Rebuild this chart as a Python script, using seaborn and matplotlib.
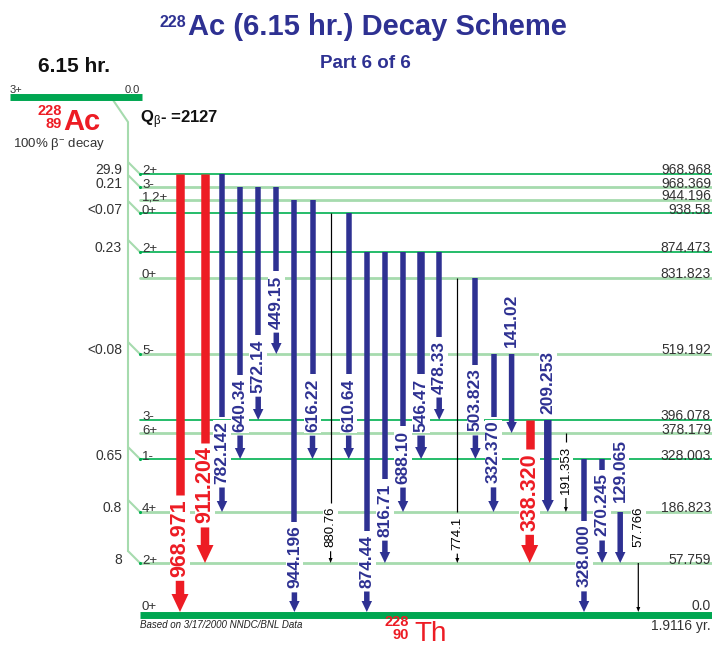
import numpy as np
import pandas as pd
import matplotlib
matplotlib.use("Agg")
import matplotlib.pyplot as plt
from matplotlib.patches import Rectangle
import seaborn as sns

# levels of 228Th populated in the decay (keV)
level_energy = [968.968, 968.369, 944.196, 938.58, 874.473, 831.823, 519.192,
                396.078, 378.179, 328.003, 186.823, 57.759, 0.0]
level_spin = ["2+", "3-", "1,2+", "0+", "2+", "0+", "5-", "3-", "6+", "1-", "4+", "2+", "0+"]
level_feed = ["29.9", "0.21", "", "<0.07", "0.23", "", "<0.08", "", "", "0.65", "0.8", "8", ""]
level_tone = ["dark", "light", "light", "dark", "dark", "light", "light",
              "dark", "light", "dark", "light", "light", "ground"]

# gamma transitions, left to right
gamma_label = ["968.971", "911.204", "782.142", "640.34", "572.14", "449.15", "944.196",
               "616.22", "880.76", "610.64", "874.44", "816.71", "688.10", "546.47",
               "478.33", "774.1", "503.823", "332.370", "141.02", "338.320", "209.253",
               "191.353", "328.000", "270.245", "129.065", "57.766"]
gamma_from = [968.968, 968.968, 968.968, 968.369, 968.369, 968.369, 944.196, 944.196,
              938.58, 938.58, 874.473, 874.473, 874.473, 874.473, 874.473, 831.823,
              831.823, 519.192, 519.192, 396.078, 396.078, 378.179, 328.003, 328.003,
              186.823, 57.759]
gamma_to = [0.0, 57.759, 186.823, 328.003, 396.078, 519.192, 0.0, 328.003, 57.759,
            328.003, 0.0, 57.759, 186.823, 328.003, 396.078, 57.759, 328.003, 186.823,
            378.179, 57.759, 186.823, 186.823, 0.0, 57.759, 57.759, 0.0]
gamma_kind = ["red", "red", "blue", "blue", "blue", "blue", "blue", "blue", "black",
              "blue", "blue", "blue", "blue", "thick", "blue", "black", "blue", "blue",
              "blue", "red", "thick", "black", "blue", "blue", "blue", "black"]

# ---- layout (pixels, schematic) ----
level_pos = {968.968: 174, 968.369: 187, 944.196: 200, 938.58: 213, 874.473: 252,
             831.823: 278, 519.192: 354, 396.078: 420, 378.179: 433, 328.003: 459,
             186.823: 512, 57.759: 563, 0.0: 615}
label_mid = [538, 485, 452, 405, 366, 302, 557, 405, 527, 405, 561, 510, 457, 405,
             367, 533, 400, 452, 320, 492, 383, 470, 556, 505, 470, 527]
col_x = np.r_[180, 205, 222 + 18.1 * np.arange(24)]

BLUE = "#2e3192"
RED = "#ed1c24"
GREEN = "#00b050"
LIGHT = "#a6dbae"
BAR = "#00a651"
GREY = "#333333"

kind_style = {
    "red": dict(color=RED, w=8.5, hw=17, hl=18, fs=15.5, weight="bold"),
    "blue": dict(color=BLUE, w=5.5, hw=10.5, hl=11, fs=12.5, weight="bold"),
    "thick": dict(color=BLUE, w=7.5, hw=12, hl=12, fs=12.5, weight="bold"),
    "black": dict(color="black", w=1.2, hw=4, hl=5, fs=9.5, weight="normal"),
}

sns.set_theme(style="white")
plt.rcParams["font.family"] = ["Liberation Sans", "DejaVu Sans"]
plt.rcParams["mathtext.fontset"] = "custom"
plt.rcParams["mathtext.rm"] = "Liberation Sans"
plt.rcParams["mathtext.it"] = "Liberation Sans:italic"
plt.rcParams["mathtext.bf"] = "Liberation Sans:bold"

fig = plt.figure(figsize=(7.12, 6.48), dpi=100)
ax = fig.add_axes([0, 0, 1, 1])

# level lines
rows = []
for e, tone in zip(level_energy[:-1], level_tone[:-1]):
    rows.append(dict(level=str(e), tone=tone, x=140, y=level_pos[e]))
    rows.append(dict(level=str(e), tone=tone, x=712, y=level_pos[e]))
lv = pd.DataFrame(rows)
sns.lineplot(data=lv, x="x", y="y", units="level", estimator=None, hue="tone",
             size="tone", palette={"dark": GREEN, "light": LIGHT},
             sizes={"dark": 1.2, "light": 2.0}, legend=False, sort=False, ax=ax)
ax.hlines(level_pos[0.0], 140, 712, color=BAR, lw=5, zorder=2)

ax.set_xlim(0, 712)
ax.set_ylim(648, 0)
ax.set_axis_off()

for e, spin, feed in zip(level_energy, level_spin, level_feed):
    y = level_pos[e] if e > 0 else level_pos[e] - 5
    ax.text(142, y + 0.5, spin, fontsize=9.5, color=GREY, va="baseline", ha="left", zorder=5)
    ax.text(711, y + 0.5, str(e), fontsize=10, color=GREY, va="baseline", ha="right", zorder=5)
    if feed:
        ax.text(122, y + 0.5, feed, fontsize=10, color=GREY, va="baseline", ha="right", zorder=5)

# beta feeding lines
fed_y = [level_pos[e] for e, f in zip(level_energy, level_feed) if f]
ax.plot([113, 128, 128], [100, 122, max(fed_y) - 12], color=LIGHT, lw=1.5, zorder=2)
for y in fed_y:
    ax.plot([128, 140], [y - 12, y], color=LIGHT, lw=1.5, zorder=2)
ax.scatter([140] * len(fed_y), fed_y, s=5, color=GREEN, zorder=3, linewidths=0)

# gamma labels
texts = []
for i, (lab, kind) in enumerate(zip(gamma_label, gamma_kind)):
    st = kind_style[kind]
    t = ax.text(col_x[i], label_mid[i], lab, rotation=90, ha="center", va="center",
                color=st["color"], fontsize=st["fs"], fontweight=st["weight"], zorder=3)
    texts.append(t)

fig.canvas.draw()
renderer = fig.canvas.get_renderer()
inv = ax.transData.inverted()
gap = 4
for i, kind in enumerate(gamma_kind):
    st = kind_style[kind]
    x = col_x[i]
    bb = texts[i].get_window_extent(renderer)
    (_, ya), (_, yb) = inv.transform([[bb.x0, bb.y0], [bb.x1, bb.y1]])
    lab_top, lab_bot = min(ya, yb), max(ya, yb)
    half = st["fs"] * 100 / 72 * 0.36 + 2.5
    ax.add_patch(Rectangle((x - half, lab_top - 1), 2 * half, lab_bot - lab_top + 2,
                           facecolor="white", edgecolor="none", zorder=2.5))
    y_top = level_pos[gamma_from[i]]
    y_bot = level_pos[gamma_to[i]] - (3 if gamma_to[i] == 0 else 0)
    start = y_top
    if lab_bot + gap > y_top and lab_top - gap < y_bot:
        if lab_top - gap > y_top:
            ax.vlines(x, y_top, lab_top - gap, colors=st["color"], lw=st["w"] * 0.72,
                      capstyle="butt", zorder=3.5)
        start = lab_bot + gap
    ax.arrow(x, start, 0, y_bot - start, width=st["w"], head_width=st["hw"],
             head_length=st["hl"], length_includes_head=True, color=st["color"],
             linewidth=0, zorder=3.5)

# titles and nuclide labels
ax.text(186, 27, "228", ha="right", va="baseline", fontsize=11.5, fontweight="bold", color=BLUE)
ax.text(188, 35, "Ac (6.15 hr.) Decay Scheme", ha="left", va="baseline", fontsize=21,
        fontweight="bold", color=BLUE)
ax.text(365, 68, "Part 6 of 6", ha="center", va="baseline", fontsize=13.5,
        fontweight="bold", color=BLUE)
ax.text(38, 72, "6.15 hr.", ha="left", va="baseline", fontsize=15, fontweight="bold", color="#111111")

ax.hlines(96.5, 10, 142, color=BAR, lw=5, zorder=2)
ax.text(10, 93, "3+", fontsize=8, color=GREY, va="baseline", ha="left")
ax.text(140, 93, "0.0", fontsize=8, color=GREY, va="baseline", ha="right")

ax.text(62, 115, "228", ha="right", va="baseline", fontsize=10.5, fontweight="bold", color=RED)
ax.text(62, 128, "89", ha="right", va="baseline", fontsize=10.5, fontweight="bold", color=RED)
ax.text(63, 130, "Ac", ha="left", va="baseline", fontsize=21, fontweight="bold", color=RED)
ax.text(13, 147, r"100% β$^{-}$ decay", ha="left", va="baseline", fontsize=9.5, color=GREY)
ax.text(140, 123, r"Q$_{\mathrm{β}}$- =2127", ha="left", va="baseline", fontsize=12,
        fontweight="bold", color="#111111")

ax.text(409, 626, "228", ha="right", va="baseline", fontsize=10.5, fontweight="bold", color=RED)
ax.text(409, 639, "90", ha="right", va="baseline", fontsize=10.5, fontweight="bold", color=RED)
ax.text(414, 641, "Th", ha="left", va="baseline", fontsize=20, color=RED)
ax.text(140, 628, "Based on 3/17/2000 NNDC/BNL Data", ha="left", va="baseline",
        fontsize=7, style="italic", color="#222222")
ax.text(711, 630, "1.9116 yr.", ha="right", va="baseline", fontsize=10, color=GREY)

fig.savefig("out.png", dpi=100)
